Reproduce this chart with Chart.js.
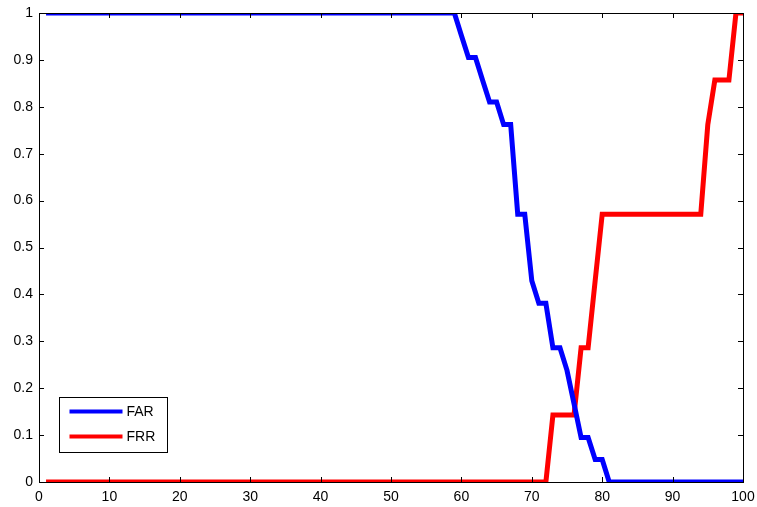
<!DOCTYPE html>
<html>
<head>
<meta charset="utf-8">
<script src="https://cdn.jsdelivr.net/npm/chart.js@4"></script>
<style>
  html, body { margin: 0; padding: 0; background: #fff; }
  #wrap { width: 757px; height: 507px; }
</style>
</head>
<body>
<div id="wrap"><canvas id="myChart" width="757" height="507"></canvas></div>
<script>
// threshold values (x axis)
const thresholds = [];
for (let i = 1; i <= 100; i++) thresholds.push(i);

// FAR, one value per threshold 1..100
const farValues = [
  1, 1, 1, 1, 1, 1, 1, 1, 1, 1,
  1, 1, 1, 1, 1, 1, 1, 1, 1, 1,
  1, 1, 1, 1, 1, 1, 1, 1, 1, 1,
  1, 1, 1, 1, 1, 1, 1, 1, 1, 1,
  1, 1, 1, 1, 1, 1, 1, 1, 1, 1,
  1, 1, 1, 1, 1, 1, 1, 1, 1, 0.952,
  0.905, 0.905, 0.857, 0.810, 0.810, 0.762, 0.762, 0.571, 0.571, 0.429,
  0.381, 0.381, 0.286, 0.286, 0.238, 0.167, 0.095, 0.095, 0.048, 0.048,
  0, 0, 0, 0, 0, 0, 0, 0, 0, 0,
  0, 0, 0, 0, 0, 0, 0, 0, 0, 0
];

// FRR
const frrValues = [
  0, 0, 0, 0, 0, 0, 0, 0, 0, 0,
  0, 0, 0, 0, 0, 0, 0, 0, 0, 0,
  0, 0, 0, 0, 0, 0, 0, 0, 0, 0,
  0, 0, 0, 0, 0, 0, 0, 0, 0, 0,
  0, 0, 0, 0, 0, 0, 0, 0, 0, 0,
  0, 0, 0, 0, 0, 0, 0, 0, 0, 0,
  0, 0, 0, 0, 0, 0, 0, 0, 0, 0,
  0, 0, 0.143, 0.143, 0.143, 0.143, 0.286, 0.286, 0.429, 0.571,
  0.571, 0.571, 0.571, 0.571, 0.571, 0.571, 0.571, 0.571, 0.571, 0.571,
  0.571, 0.571, 0.571, 0.571, 0.762, 0.857, 0.857, 0.857, 1, 1
];

const seriesNames = ['FAR', 'FRR'];
const seriesColors = ['#0000ff', '#ff0000'];

const xTicks = [0, 10, 20, 30, 40, 50, 60, 70, 80, 90, 100];
const yTicks = [0, 0.1, 0.2, 0.3, 0.4, 0.5, 0.6, 0.7, 0.8, 0.9, 1];

const fontFamily = '"Liberation Sans", Arial, Helvetica, sans-serif';

function toPoints(values) {
  return values.map((v, i) => ({ x: thresholds[i], y: v }));
}

// frame box + inward ticks on all four sides, like matlab axes
const framePlugin = {
  id: 'frame',
  afterDatasetsDraw(chart) {
    const ctx = chart.ctx;
    const a = chart.chartArea;
    const xs = chart.scales.x, ys = chart.scales.y;
    const tl = 5;
    ctx.save();
    ctx.strokeStyle = '#000';
    ctx.lineWidth = 1;
    ctx.beginPath();
    xTicks.forEach(t => {
      const px = Math.round(xs.getPixelForValue(t)) + 0.5;
      ctx.moveTo(px, a.bottom); ctx.lineTo(px, a.bottom - tl);
      ctx.moveTo(px, a.top); ctx.lineTo(px, a.top + tl);
    });
    yTicks.forEach(t => {
      const py = Math.round(ys.getPixelForValue(t)) + 0.5;
      ctx.moveTo(a.left, py); ctx.lineTo(a.left + tl, py);
      ctx.moveTo(a.right, py); ctx.lineTo(a.right - tl, py);
    });
    ctx.stroke();
    ctx.strokeRect(Math.round(a.left) + 0.5, Math.round(a.top) + 0.5,
      Math.round(a.right - a.left), Math.round(a.bottom - a.top));
    ctx.restore();
  }
};

// legend box in the lower left corner
const legendBoxPlugin = {
  id: 'legendBox',
  afterDraw(chart) {
    const ctx = chart.ctx;
    const a = chart.chartArea;
    const x0 = Math.round(a.left) + 20.5;
    const y0 = Math.round(a.bottom) - 84.5;
    const w = 108, h = 55;
    ctx.save();
    ctx.fillStyle = '#fff';
    ctx.fillRect(x0, y0, w, h);
    ctx.strokeStyle = '#000';
    ctx.lineWidth = 1;
    ctx.strokeRect(x0, y0, w, h);
    ctx.font = '14px ' + fontFamily;
    ctx.textBaseline = 'middle';
    chart.data.datasets.forEach((ds, i) => {
      const ly = y0 + 14 + i * 25;
      ctx.strokeStyle = ds.borderColor;
      ctx.lineWidth = 4;
      ctx.beginPath();
      ctx.moveTo(x0 + 10, ly);
      ctx.lineTo(x0 + 63, ly);
      ctx.stroke();
      ctx.fillStyle = '#000';
      ctx.fillText(ds.label, x0 + 67, ly + 1);
    });
    ctx.restore();
  }
};

const ctx = document.getElementById('myChart');

new Chart(ctx, {
  type: 'line',
  data: {
    datasets: [
      {
        label: seriesNames[0],
        data: toPoints(farValues),
        borderColor: seriesColors[0],
        borderWidth: 5,
        pointRadius: 0,
        tension: 0,
        fill: false,
        clip: 0
      },
      {
        label: seriesNames[1],
        data: toPoints(frrValues),
        borderColor: seriesColors[1],
        borderWidth: 5,
        pointRadius: 0,
        tension: 0,
        fill: false,
        clip: 0
      }
    ]
  },
  options: {
    responsive: false,
    animation: false,
    layout: { padding: { top: 13, right: 14, left: 0, bottom: 0 } },
    plugins: {
      legend: { display: false },
      tooltip: { enabled: false }
    },
    scales: {
      x: {
        type: 'linear',
        min: 0,
        max: 100,
        afterFit: s => { s.height = 25; s.paddingLeft = 0; s.paddingRight = 0; },
        afterBuildTicks: s => { s.ticks = xTicks.map(v => ({ value: v })); },
        grid: { display: false, drawTicks: false },
        border: { display: false },
        ticks: {
          color: '#000',
          padding: 7,
          maxRotation: 0,
          font: { family: fontFamily, size: 14 }
        }
      },
      y: {
        type: 'linear',
        min: 0,
        max: 1,
        afterFit: s => { s.width = 39; s.paddingTop = 0; s.paddingBottom = 0; },
        afterBuildTicks: s => { s.ticks = yTicks.map(v => ({ value: v })); },
        grid: { display: false, drawTicks: false },
        border: { display: false },
        ticks: {
          color: '#000',
          padding: 6,
          font: { family: fontFamily, size: 14 },
          callback: v => String(Math.round(v * 10) / 10)
        }
      }
    }
  },
  plugins: [framePlugin, legendBoxPlugin]
});
</script>
</body>
</html>
